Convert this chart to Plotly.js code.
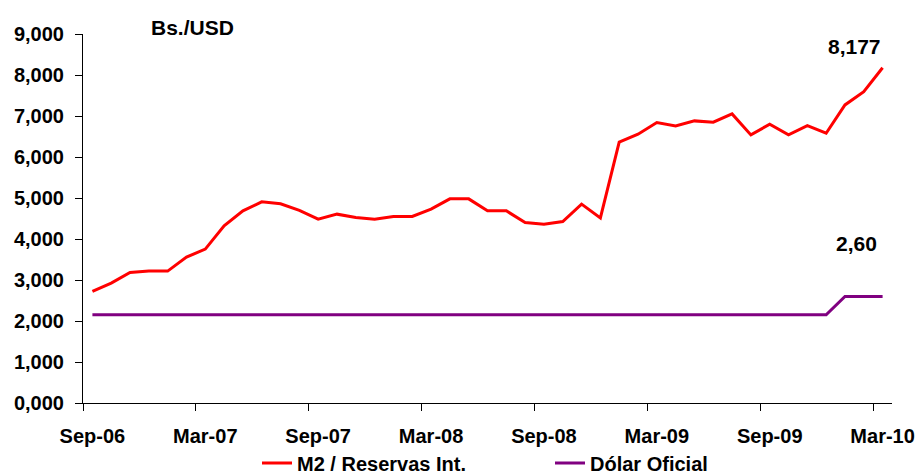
<!DOCTYPE html>
<html>
<head>
<meta charset="utf-8">
<script src="https://cdn.plot.ly/plotly-3.0.1.min.js"></script>
<style>html,body{margin:0;padding:0;background:#fff;}#chart{width:919px;height:474px;}</style>
</head>
<body>
<div id="chart"></div>
<script>
// Monthly categories (Sep-06 .. Mar-10)
const months = ["Sep-06","Oct-06","Nov-06","Dec-06","Jan-07","Feb-07","Mar-07","Apr-07","May-07","Jun-07","Jul-07","Aug-07",
  "Sep-07","Oct-07","Nov-07","Dec-07","Jan-08","Feb-08","Mar-08","Apr-08","May-08","Jun-08","Jul-08","Aug-08",
  "Sep-08","Oct-08","Nov-08","Dec-08","Jan-09","Feb-09","Mar-09","Apr-09","May-09","Jun-09","Jul-09","Aug-09",
  "Sep-09","Oct-09","Nov-09","Dec-09","Jan-10","Feb-10","Mar-10"];
// Labelled months on the x axis
const tickLabels = ["Sep-06","Mar-07","Sep-07","Mar-08","Sep-08","Mar-09","Sep-09","Mar-10"];
// M2 / Reservas Internacionales (Bs./USD)
const m2Reservas = [2.720,2.925,3.183,3.217,3.217,3.558,3.753,4.321,4.687,4.906,4.860,4.700,
  4.484,4.606,4.524,4.484,4.549,4.549,4.728,4.979,4.979,4.687,4.687,4.402,
  4.362,4.427,4.850,4.515,6.361,6.556,6.840,6.759,6.881,6.848,7.051,6.539,
  6.800,6.539,6.766,6.580,7.270,7.595,8.177];
// Dólar oficial (Bs./USD)
const dolarOficial = [2.15,2.15,2.15,2.15,2.15,2.15,2.15,2.15,2.15,2.15,2.15,2.15,
  2.15,2.15,2.15,2.15,2.15,2.15,2.15,2.15,2.15,2.15,2.15,2.15,
  2.15,2.15,2.15,2.15,2.15,2.15,2.15,2.15,2.15,2.15,2.15,2.15,
  2.15,2.15,2.15,2.15,2.60,2.60,2.60];
const yTicks = [0,1,2,3,4,5,6,7,8,9];
const seriesNames = ["M2 / Reservas Int.", "Dólar Oficial"];
const unitLabel = "Bs./USD";

const idx = months.map((m, i) => i);
const tickIdx = tickLabels.map(l => months.indexOf(l));
const boundaries = [];
for (let i = 0; i <= months.length; i += 6) boundaries.push(i - 0.5);

const FONT = "Liberation Sans, Arial, Helvetica, sans-serif";
const last = arr => arr[arr.length - 1];
const fmt = (v, d) => v.toFixed(d).replace('.', ',');
const bold = size => ({family: FONT, size: size, color: '#000', weight: 700});

const traces = [
  {x: idx, y: m2Reservas, type: 'scatter', mode: 'lines', name: seriesNames[0],
   line: {color: '#ff0000', width: 3}, legend: 'legend'},
  {x: idx, y: dolarOficial, type: 'scatter', mode: 'lines', name: seriesNames[1],
   line: {color: '#800080', width: 3}, legend: 'legend2'}
];

const plotW = 919 - 83 - 27, plotH = 474 - 34 - 71;
const layout = {
  width: 919, height: 474,
  margin: {l: 83, r: 27, t: 34, b: 71, autoexpand: false},
  paper_bgcolor: '#fff', plot_bgcolor: '#fff',
  separators: ',.',
  font: bold(20),
  showlegend: true,
  xaxis: {
    range: [-0.5, months.length - 0.5], showgrid: false, zeroline: false,
    showline: true, linecolor: '#000', linewidth: 1,
    tickmode: 'array', tickvals: tickIdx, ticktext: tickLabels,
    ticks: '', ticklabelstandoff: 15,
    tickfont: bold(20),
    minor: {tickmode: 'array', tickvals: boundaries, ticks: 'outside', ticklen: 7, tickcolor: '#000', tickwidth: 1, showgrid: false}
  },
  yaxis: {
    range: [0, 9], showgrid: false, zeroline: false,
    showline: true, linecolor: '#000', linewidth: 1,
    tickmode: 'array', tickvals: yTicks, tickformat: '.3f',
    ticks: 'outside', ticklen: 7, tickcolor: '#000', ticklabelstandoff: 7,
    tickfont: bold(20)
  },
  legend: {orientation: 'h', x: (257 - 83) / plotW, xanchor: 'left', y: -(463 - 403) / plotH, yanchor: 'middle',
    font: bold(20), bgcolor: 'rgba(0,0,0,0)'},
  legend2: {orientation: 'h', x: (550 - 83) / plotW, xanchor: 'left', y: -(463 - 403) / plotH, yanchor: 'middle',
    font: bold(20), bgcolor: 'rgba(0,0,0,0)'},
  annotations: [
    {text: unitLabel, xref: 'paper', yref: 'paper', x: (192 - 83) / plotW, y: 1 + (34 - 27.5) / plotH,
     xanchor: 'center', yanchor: 'middle', showarrow: false, font: bold(21)},
    {text: fmt(last(m2Reservas), 3), xref: 'x', yref: 'y', x: months.length - 1, y: last(m2Reservas),
     xanchor: 'right', yanchor: 'middle', xshift: 0, yshift: 21, showarrow: false, font: bold(21)},
    {text: fmt(last(dolarOficial), 2), xref: 'x', yref: 'y', x: months.length - 1, y: last(dolarOficial),
     xanchor: 'right', yanchor: 'middle', xshift: -4, yshift: 53, showarrow: false, font: bold(21)}
  ]
};

Plotly.newPlot('chart', traces, layout, {displayModeBar: false, staticPlot: true});
</script>
</body>
</html>
